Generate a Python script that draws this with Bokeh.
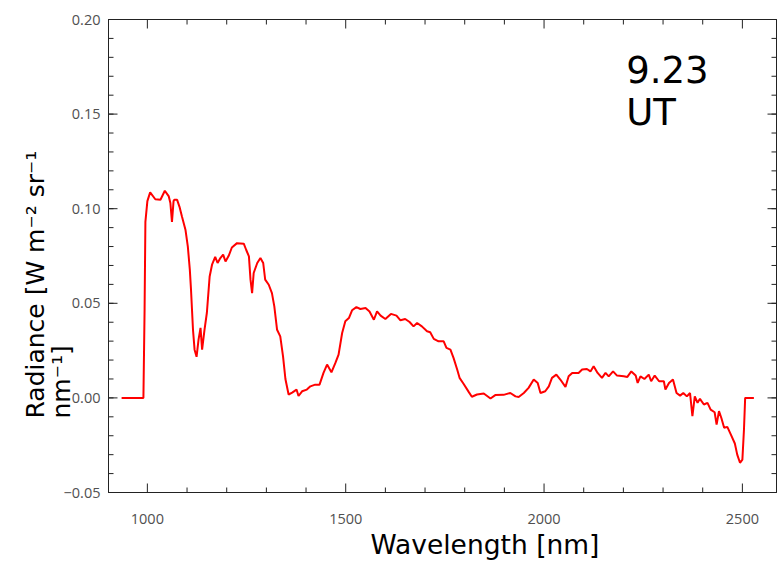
import math
from bokeh.plotting import figure
from bokeh.models import (LinearAxis, FixedTicker, CustomJSTickFormatter, Label, Range1d, Title)
from bokeh.embed import file_html
from bokeh.resources import INLINE

# Spectrum values (wavelength nm, radiance)
wavelength = [935, 990, 993, 995, 1000, 1007, 1020, 1033, 1044, 1054, 1058, 1062, 1066, 1068,
              1075, 1081, 1087, 1096, 1102, 1107, 1110, 1115, 1119, 1124, 1129, 1134, 1138,
              1144, 1150, 1157, 1163, 1171, 1177, 1184, 1191, 1197, 1205, 1213, 1226, 1243,
              1249, 1256, 1260, 1264, 1268, 1277, 1285, 1292, 1297, 1306, 1314, 1320, 1327,
              1335, 1342, 1348, 1356, 1365, 1376, 1381, 1390, 1402, 1411, 1423, 1434, 1444,
              1453, 1464, 1474, 1482, 1491, 1499, 1508, 1516, 1527, 1537, 1550, 1560, 1571,
              1579, 1588, 1600, 1614, 1628, 1638, 1650, 1661, 1671, 1680, 1692, 1705, 1713,
              1722, 1734, 1747, 1754, 1764, 1772, 1781, 1787, 1797, 1810, 1818, 1831, 1848,
              1865, 1877, 1898, 1915, 1928, 1936, 1949, 1961, 1974, 1984, 1991, 2003, 2012,
              2020, 2031, 2041, 2054, 2062, 2071, 2087, 2096, 2108, 2117, 2125, 2135, 2146,
              2155, 2163, 2174, 2184, 2201, 2210, 2220, 2231, 2236, 2243, 2253, 2264, 2270,
              2279, 2290, 2302, 2306, 2315, 2325, 2334, 2343, 2351, 2360, 2368, 2374, 2380,
              2387, 2393, 2403, 2412, 2420, 2430, 2435, 2441, 2447, 2454, 2462, 2471, 2481,
              2487, 2494, 2500, 2504, 2507, 2529]
radiance = [0.0, 0.0, 0.047, 0.093, 0.104, 0.1086, 0.105, 0.1047, 0.1095, 0.1065, 0.103, 0.093,
            0.104, 0.1047, 0.1047, 0.101, 0.096, 0.0889, 0.080, 0.0678, 0.0572, 0.036, 0.0255,
            0.0217, 0.0308, 0.037, 0.0255, 0.036, 0.045, 0.0642, 0.0704, 0.0745, 0.0713,
            0.0739, 0.0757, 0.0721, 0.0751, 0.0795, 0.0818, 0.0815, 0.0783, 0.0748, 0.0625,
            0.0554, 0.066, 0.0713, 0.0739, 0.0713, 0.0625, 0.0598, 0.0554, 0.0484, 0.036,
            0.0325, 0.022, 0.010, 0.0018, 0.0028, 0.0044, 0.0010, 0.0035, 0.0044, 0.0061,
            0.007, 0.007, 0.0132, 0.0176, 0.0135, 0.0185, 0.0229, 0.0343, 0.0405, 0.0422,
            0.0463, 0.048, 0.047, 0.0475, 0.0457, 0.0413, 0.0457, 0.0435, 0.0417, 0.0444,
            0.0435, 0.041, 0.0417, 0.0401, 0.0378, 0.0396, 0.0378, 0.0352, 0.0347, 0.0312,
            0.0299, 0.0299, 0.0264, 0.0255, 0.021, 0.015, 0.0106, 0.0075, 0.0032, 0.0006,
            0.0018, 0.0023, -0.0003, 0.0015, 0.0016, 0.0026, 0.0008, 0.0005, 0.0026, 0.0053,
            0.0097, 0.0079, 0.0026, 0.0035, 0.0061, 0.0106, 0.0123, 0.0097, 0.0058, 0.0114,
            0.0132, 0.0132, 0.015, 0.0153, 0.014, 0.0167, 0.0132, 0.0106, 0.0132, 0.0114,
            0.014, 0.0118, 0.0114, 0.0111, 0.014, 0.0118, 0.0079, 0.0114, 0.01, 0.0123,
            0.0088, 0.0118, 0.0088, 0.0088, 0.0044, 0.0079, 0.0097, 0.0026, 0.0012, 0.0026,
            0.0008, 0.0026, -0.0097, 0.0008, -0.0026, -0.0005, -0.0035, -0.0026, -0.0062,
            -0.0076, -0.0141, -0.007, -0.0106, -0.0158, -0.0153, -0.0194, -0.0241, -0.030,
            -0.0343, -0.0326, -0.0167, 0.0, 0.0]

x_ticks = [1000, 1500, 2000, 2500]
x_minor = [1100, 1200, 1300, 1400, 1600, 1700, 1800, 1900, 2100, 2200, 2300, 2400]
y_ticks = [-0.05, 0.0, 0.05, 0.10, 0.15, 0.20]
y_minor = [round(-0.05 + 0.01 * i, 2) for i in range(26)]

x_label = "Wavelength [nm]"
y_label_1 = "Radiance [W m\u207b\u00b2 sr\u207b\u00b9"
y_label_2 = "nm\u207b\u00b9]"
annot_1 = "9.23"
annot_2 = "UT"

X_LO, X_HI = 902, 2586
Y_LO, Y_HI = -0.05, 0.20
AX = "#222222"

p = figure(width=778, height=562, output_backend="svg", toolbar_location=None,
           x_range=Range1d(X_LO, X_HI), y_range=Range1d(Y_LO, Y_HI),
           min_border_left=108, min_border_right=2, min_border_top=19, min_border_bottom=70,
           x_axis_type=None, y_axis_type=None)
p.grid.visible = False
p.outline_line_color = AX
p.outline_line_width = 1
p.background_fill_color = "white"
p.border_fill_color = "white"

tick_fmt = CustomJSTickFormatter(code="return tick.toFixed(2).replace('-', '\\u2212');")
x_fmt = CustomJSTickFormatter(code="return tick.toFixed(0);")
blank = CustomJSTickFormatter(code="return '';")


def style(ax):
    ax.axis_line_color = AX
    ax.major_tick_line_color = AX
    ax.minor_tick_line_color = AX
    ax.major_tick_in = 0
    ax.major_tick_out = 0
    ax.minor_tick_in = 0
    ax.minor_tick_out = 0
    ax.major_label_text_font = "Open Sans"
    ax.major_label_text_font_size = "14.5px"
    ax.major_label_text_color = "#505050"
    ax.major_label_standoff = 0


bottom = LinearAxis(ticker=FixedTicker(ticks=x_ticks, minor_ticks=x_minor), formatter=x_fmt)
style(bottom)
bottom.major_label_standoff = 21
top = LinearAxis(ticker=FixedTicker(ticks=x_ticks, minor_ticks=x_minor), formatter=blank)
style(top)
left = LinearAxis(ticker=FixedTicker(ticks=y_ticks, minor_ticks=y_minor), formatter=tick_fmt)
style(left)
left.major_label_standoff = 8
right = LinearAxis(ticker=FixedTicker(ticks=y_ticks, minor_ticks=y_minor), formatter=blank)
style(right)

p.add_layout(bottom, "below")
p.add_layout(top, "above")
p.add_layout(left, "left")
p.add_layout(right, "right")

# inward tick marks (dash markers centred on the frame edge, outer half clipped)
for xs, ys, ang, sz in [
    (x_ticks, [Y_LO] * len(x_ticks), math.pi / 2, 18),
    (x_ticks, [Y_HI] * len(x_ticks), math.pi / 2, 18),
    (x_minor, [Y_LO] * len(x_minor), math.pi / 2, 10),
    (x_minor, [Y_HI] * len(x_minor), math.pi / 2, 10),
    ([X_LO] * len(y_ticks), y_ticks, 0, 18),
    ([X_HI] * len(y_ticks), y_ticks, 0, 18),
    ([X_LO] * len(y_minor), y_minor, 0, 10),
    ([X_HI] * len(y_minor), y_minor, 0, 10),
]:
    p.scatter(x=xs, y=ys, marker="dash", angle=ang, size=sz, line_color=AX, line_width=1)

p.line(wavelength, radiance, line_color="#ff0000", line_width=2)

font = "DejaVu Sans"
p.add_layout(Title(text=y_label_2, align="left", offset=74, standoff=-31, text_font=font,
                   text_font_size="25px", text_font_style="normal", text_color="black"), "left")
p.add_layout(Title(text=y_label_1, align="left", offset=74, standoff=21, text_font=font,
                   text_font_size="25px", text_font_style="normal", text_color="black"), "left")
p.add_layout(Title(text=x_label, align="left", offset=262, standoff=1, text_font=font,
                   text_font_size="26.5px", text_font_style="normal", text_color="black"), "below")

p.add_layout(Label(x=2207, y=0.1734, text=annot_1, text_font=font, text_font_size="37px",
                   text_align="left", text_baseline="alphabetic", text_color="black"))
p.add_layout(Label(x=2207, y=0.1507, text=annot_2, text_font=font, text_font_size="37px",
                   text_align="left", text_baseline="alphabetic", text_color="black"))

open("out.html", "w").write(file_html(p, INLINE))
